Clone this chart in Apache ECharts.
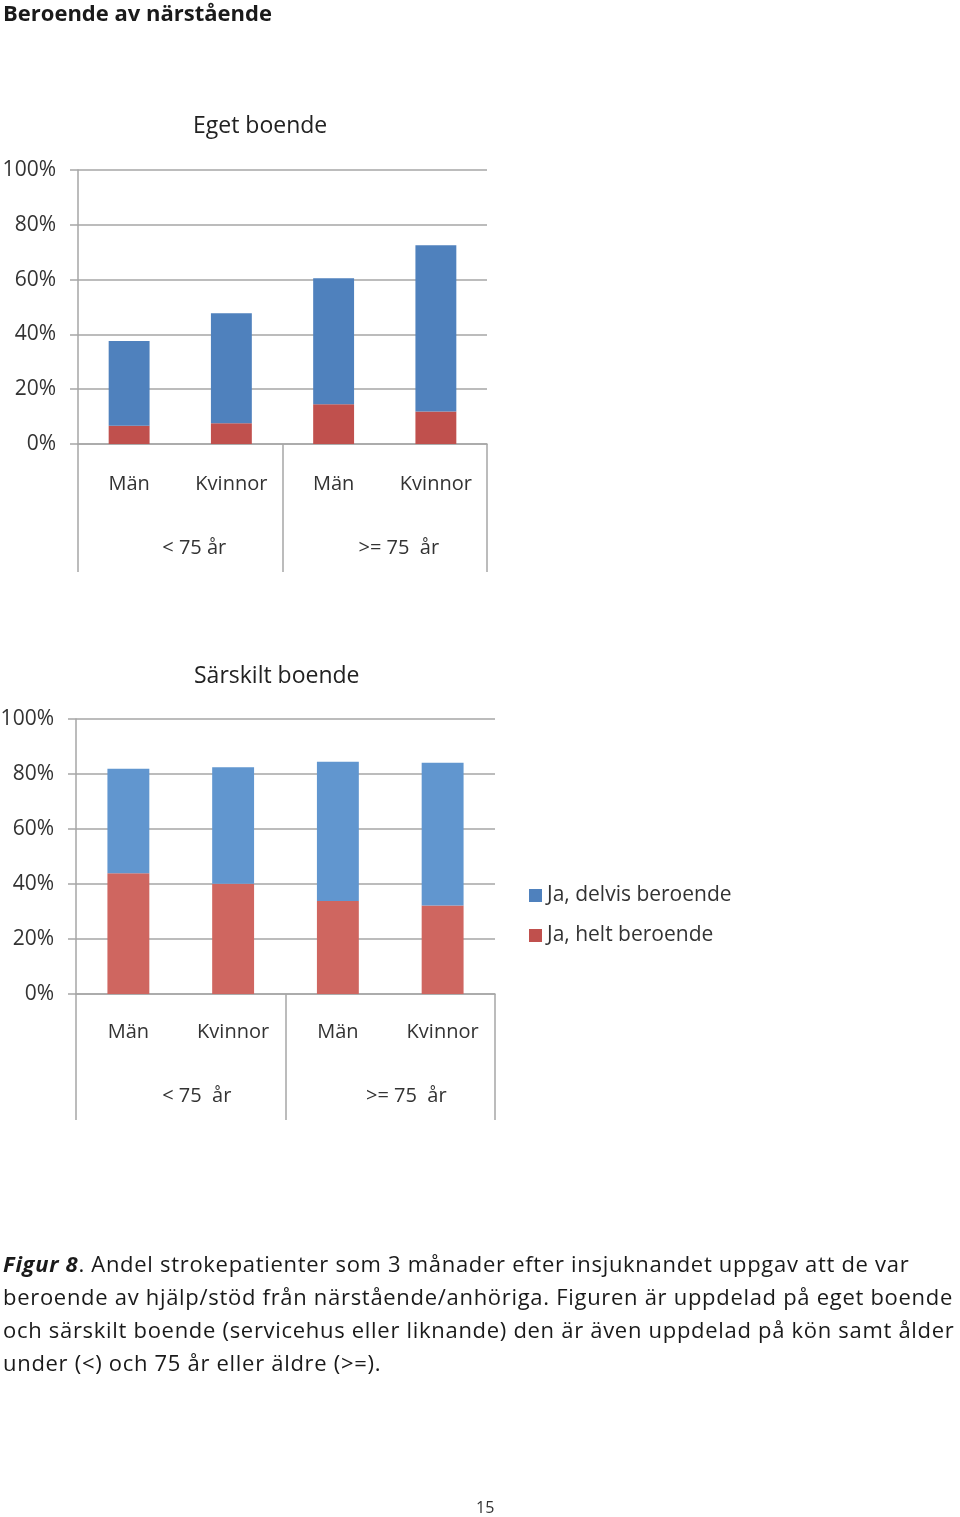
<!DOCTYPE html>
<html>
<head>
<meta charset="utf-8">
<script src="https://cdn.jsdelivr.net/npm/echarts@6/dist/echarts.min.js"></script>
<style>
  body { margin: 0; background: #fff; }
  #page { position: relative; width: 960px; height: 1517px; font-family: "Open Sans", sans-serif; color: #1a1a1a; }
  #chart { position: absolute; left: 0; top: 0; width: 960px; height: 1517px; }
  .heading { position: absolute; left: 3px; top: -3px; font-size: 22px; font-weight: bold; }
  .caption { position: absolute; left: 3px; top: 1247px; font-size: 22px; letter-spacing: 0.7px; line-height: 33px; white-space: nowrap; }
  .pagenr { position: absolute; left: 476px; top: 1496px; font-size: 16px; color: #333; }
</style>
</head>
<body>
<div id="page">
  <div id="chart"></div>
  <div class="heading">Beroende av närstående</div>
  <div class="caption"><b><i>Figur 8</i></b>. Andel strokepatienter som 3 månader efter insjuknandet uppgav att de var<br>beroende av hjälp/stöd från närstående/anhöriga. Figuren är uppdelad på eget boende<br>och särskilt boende (servicehus eller liknande) den är även uppdelad på kön samt ålder<br>under (&lt;) och 75 år eller äldre (&gt;=).</div>
  <div class="pagenr">15</div>
</div>
<script>
// kategorier
const kon = ["Män", "Kvinnor", "Män", "Kvinnor"];
const alderEget = ["< 75 år", ">= 75  år"];
const alderSarskilt = ["< 75  år", ">= 75  år"];
const yTicks = [0, 20, 40, 60, 80, 100];

// Eget boende (%)
const egetHelt = [6.7, 7.6, 14.5, 11.9];
const egetDelvis = [30.9, 40.1, 46.0, 60.6];

// Särskilt boende (%)
const sarskiltHelt = [43.9, 40.1, 33.8, 32.2];
const sarskiltDelvis = [38.0, 42.4, 50.7, 51.9];

const font = "Open Sans";
const lineColor = "#a6a6a6";

function yAxis(gridIndex) {
  return {
    type: "value",
    gridIndex: gridIndex,
    min: yTicks[0],
    max: yTicks[yTicks.length - 1],
    interval: 20,
    axisLine: { show: true, lineStyle: { color: lineColor, width: 1.5 } },
    axisTick: { show: true, length: 8, lineStyle: { color: lineColor, width: 1.5 } },
    splitLine: { lineStyle: { color: lineColor, width: 1.5 } },
    axisLabel: { formatter: "{value}%", margin: 22, fontSize: 21, color: "#333", fontFamily: font }
  };
}

function xAxes(gridIndex, groups, tick1, tick2, m1, m2, shift) {
  return [
    {
      type: "category",
      gridIndex: gridIndex,
      data: kon,
      axisLine: { lineStyle: { color: lineColor, width: 1.5 } },
      axisTick: { length: tick1, lineStyle: { color: lineColor, width: 1.5 } },
      axisLabel: { margin: m1, fontSize: 20, color: "#333", fontFamily: font }
    },
    {
      type: "category",
      gridIndex: gridIndex,
      position: "bottom",
      data: groups,
      axisLine: { show: false },
      axisTick: { show: true, length: tick2, lineStyle: { color: lineColor, width: 1.5 } },
      axisLabel: { margin: m2, fontSize: 20, color: "#333", fontFamily: font, padding: [0, 0, 0, shift] }
    }
  ];
}

const chart = echarts.init(document.getElementById("chart"));
chart.setOption({
  animation: false,
  textStyle: { fontFamily: font },
  title: [
    { text: "Eget boende", left: 188, top: 110, textStyle: { fontSize: 23, fontWeight: "normal", color: "#222", fontFamily: font } },
    { text: "Särskilt boende", left: 189, top: 660, textStyle: { fontSize: 23, fontWeight: "normal", color: "#222", fontFamily: font } }
  ],
  legend: {
    left: 524,
    top: 880,
    orient: "vertical",
    itemWidth: 13,
    itemHeight: 13,
    itemGap: 19,
    icon: "rect",
    data: ["Ja, delvis beroende", "Ja, helt beroende"],
    textStyle: { fontSize: 21, color: "#333", fontFamily: font }
  },
  grid: [
    { left: 78, top: 170, width: 409, height: 274, outerBoundsMode: "none", containLabel: false },
    { left: 76, top: 719, width: 419, height: 275, outerBoundsMode: "none", containLabel: false }
  ],
  xAxis: [].concat(
    xAxes(0, alderEget, 64, 128, 30, 94, 28),
    xAxes(1, alderSarskilt, 61, 126, 28, 92, 32)
  ),
  yAxis: [yAxis(0), yAxis(1)],
  series: [
    { name: "Ja, helt beroende", type: "bar", stack: "a", xAxisIndex: 0, yAxisIndex: 0, barWidth: "40%", data: egetHelt, itemStyle: { color: "#c0504d" } },
    { name: "Ja, delvis beroende", type: "bar", stack: "a", xAxisIndex: 0, yAxisIndex: 0, barWidth: "40%", data: egetDelvis, itemStyle: { color: "#4f81bd" } },
    { name: "Ja, helt beroende", type: "bar", stack: "b", xAxisIndex: 2, yAxisIndex: 1, barWidth: "40%", data: sarskiltHelt, itemStyle: { color: "#cf6660" } },
    { name: "Ja, delvis beroende", type: "bar", stack: "b", xAxisIndex: 2, yAxisIndex: 1, barWidth: "40%", data: sarskiltDelvis, itemStyle: { color: "#6196cf" } }
  ]
});
</script>
</body>
</html>
